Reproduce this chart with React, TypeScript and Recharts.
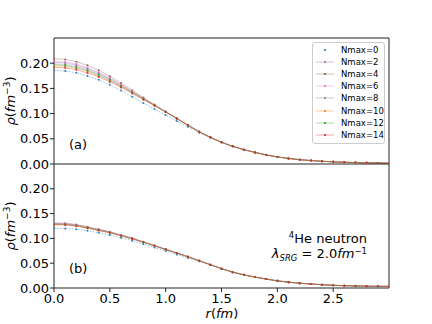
import React from 'react';
import { LineChart, Line, XAxis, YAxis, ReferenceLine, Customized } from 'recharts';

const rValues = [0, 0.1, 0.2, 0.3, 0.4, 0.5, 0.6, 0.7, 0.8, 0.9, 1.0, 1.1, 1.2, 1.3, 1.4, 1.5, 1.6, 1.7, 1.8, 1.9, 2.0, 2.1, 2.2, 2.3, 2.4, 2.5, 2.6, 2.7, 2.8, 2.9, 3.0];

const xTicks = [0, 0.5, 1.0, 1.5, 2.0, 2.5];
const yTicks = [0, 0.05, 0.1, 0.15, 0.2];
const seriesLabels = ['Nmax=0', 'Nmax=2', 'Nmax=4', 'Nmax=6', 'Nmax=8', 'Nmax=10', 'Nmax=12', 'Nmax=14'];

// panel (a)
const topN0 = [0.186, 0.1845, 0.181, 0.1747, 0.167, 0.1571, 0.1457, 0.1335, 0.121, 0.109, 0.097, 0.0855, 0.074, 0.062, 0.052, 0.043, 0.035, 0.0285, 0.023, 0.0182, 0.0143, 0.0113, 0.0088, 0.007, 0.0056, 0.0045, 0.0036, 0.003, 0.0025, 0.0021, 0.0018];
const topN2 = [0.202, 0.2006, 0.1963, 0.1895, 0.1805, 0.1695, 0.1571, 0.1438, 0.1302, 0.117, 0.1036, 0.0904, 0.077, 0.064, 0.053, 0.043, 0.035, 0.0285, 0.023, 0.018, 0.014, 0.011, 0.0085, 0.0068, 0.0054, 0.0043, 0.0034, 0.0028, 0.0023, 0.0019, 0.0016];
const topN4 = [0.209, 0.2075, 0.203, 0.1957, 0.186, 0.1741, 0.1607, 0.1465, 0.132, 0.118, 0.104, 0.0905, 0.077, 0.064, 0.053, 0.043, 0.035, 0.0285, 0.023, 0.018, 0.014, 0.011, 0.0085, 0.0068, 0.0054, 0.0043, 0.0034, 0.0028, 0.0023, 0.0019, 0.0016];
const topN6 = [0.204, 0.2025, 0.1982, 0.1913, 0.1821, 0.1708, 0.1581, 0.1446, 0.1307, 0.1173, 0.1037, 0.0904, 0.077, 0.064, 0.053, 0.043, 0.035, 0.0285, 0.023, 0.018, 0.014, 0.011, 0.0085, 0.0068, 0.0054, 0.0043, 0.0034, 0.0028, 0.0023, 0.0019, 0.0016];
const topN8 = [0.199, 0.1976, 0.1935, 0.1869, 0.1782, 0.1675, 0.1555, 0.1427, 0.1295, 0.1166, 0.1034, 0.0903, 0.077, 0.064, 0.053, 0.043, 0.035, 0.0285, 0.023, 0.018, 0.014, 0.011, 0.0085, 0.0068, 0.0054, 0.0043, 0.0034, 0.0028, 0.0023, 0.0019, 0.0016];
const topN10 = [0.195, 0.1936, 0.1897, 0.1834, 0.1751, 0.1649, 0.1534, 0.1412, 0.1285, 0.116, 0.1032, 0.0902, 0.077, 0.064, 0.053, 0.043, 0.035, 0.0285, 0.023, 0.018, 0.014, 0.011, 0.0085, 0.0068, 0.0054, 0.0043, 0.0034, 0.0028, 0.0023, 0.0019, 0.0016];
const topN12 = [0.197, 0.1956, 0.1916, 0.1851, 0.1766, 0.1662, 0.1545, 0.1419, 0.129, 0.1163, 0.1033, 0.0903, 0.077, 0.064, 0.053, 0.043, 0.035, 0.0285, 0.023, 0.018, 0.014, 0.011, 0.0085, 0.0068, 0.0054, 0.0043, 0.0034, 0.0028, 0.0023, 0.0019, 0.0016];
const topN14 = [0.192, 0.1907, 0.1868, 0.1807, 0.1727, 0.1629, 0.1519, 0.14, 0.1277, 0.1156, 0.103, 0.0902, 0.077, 0.064, 0.053, 0.043, 0.035, 0.0285, 0.023, 0.018, 0.014, 0.011, 0.0085, 0.0068, 0.0054, 0.0043, 0.0034, 0.0028, 0.0023, 0.0019, 0.0016];

// panel (b)
const botN0 = [0.1205, 0.12, 0.1185, 0.1155, 0.1115, 0.107, 0.1015, 0.0955, 0.0885, 0.0815, 0.0745, 0.0675, 0.0605, 0.054, 0.0465, 0.039, 0.032, 0.0265, 0.022, 0.018, 0.0145, 0.0118, 0.0097, 0.008, 0.0066, 0.0055, 0.0047, 0.0041, 0.0037, 0.0034, 0.0032];
const botN2 = [0.13, 0.1295, 0.1271, 0.1226, 0.1177, 0.1128, 0.1065, 0.1001, 0.0928, 0.0854, 0.078, 0.0705, 0.063, 0.055, 0.047, 0.039, 0.032, 0.0265, 0.022, 0.018, 0.0145, 0.0118, 0.0097, 0.008, 0.0066, 0.0055, 0.0047, 0.0041, 0.0037, 0.0034, 0.0032];
const botN4 = [0.131, 0.1305, 0.128, 0.1235, 0.1185, 0.1135, 0.107, 0.1005, 0.093, 0.0855, 0.078, 0.0705, 0.063, 0.055, 0.047, 0.039, 0.032, 0.0265, 0.022, 0.018, 0.0145, 0.0118, 0.0097, 0.008, 0.0066, 0.0055, 0.0047, 0.0041, 0.0037, 0.0034, 0.0032];
const botN6 = [0.1305, 0.13, 0.1275, 0.1231, 0.1181, 0.1132, 0.1067, 0.1003, 0.0929, 0.0854, 0.078, 0.0705, 0.063, 0.055, 0.047, 0.039, 0.032, 0.0265, 0.022, 0.018, 0.0145, 0.0118, 0.0097, 0.008, 0.0066, 0.0055, 0.0047, 0.0041, 0.0037, 0.0034, 0.0032];
const botN8 = [0.129, 0.1285, 0.1261, 0.1217, 0.1169, 0.1122, 0.106, 0.0997, 0.0925, 0.0852, 0.0779, 0.0705, 0.063, 0.055, 0.047, 0.039, 0.032, 0.0265, 0.022, 0.018, 0.0145, 0.0118, 0.0097, 0.008, 0.0066, 0.0055, 0.0047, 0.0041, 0.0037, 0.0034, 0.0032];
const botN10 = [0.128, 0.1275, 0.1252, 0.1209, 0.1162, 0.1115, 0.1054, 0.0994, 0.0922, 0.0851, 0.0778, 0.0704, 0.063, 0.055, 0.047, 0.039, 0.032, 0.0265, 0.022, 0.018, 0.0145, 0.0118, 0.0097, 0.008, 0.0066, 0.0055, 0.0047, 0.0041, 0.0037, 0.0034, 0.0032];
const botN12 = [0.1285, 0.128, 0.1256, 0.1213, 0.1166, 0.1119, 0.1057, 0.0995, 0.0924, 0.0852, 0.0779, 0.0705, 0.063, 0.055, 0.047, 0.039, 0.032, 0.0265, 0.022, 0.018, 0.0145, 0.0118, 0.0097, 0.008, 0.0066, 0.0055, 0.0047, 0.0041, 0.0037, 0.0034, 0.0032];
const botN14 = [0.1275, 0.127, 0.1247, 0.1204, 0.1158, 0.1112, 0.1052, 0.0992, 0.0921, 0.085, 0.0778, 0.0704, 0.063, 0.055, 0.047, 0.039, 0.032, 0.0265, 0.022, 0.018, 0.0145, 0.0118, 0.0097, 0.008, 0.0066, 0.0055, 0.0047, 0.0041, 0.0037, 0.0034, 0.0032];

const topSeries = [topN0, topN2, topN4, topN6, topN8, topN10, topN12, topN14];
const botSeries = [botN0, botN2, botN4, botN6, botN8, botN10, botN12, botN14];

const COLORS = ['#1f77b4', '#9467bd', '#8c564b', '#e377c2', '#7f7f7f', '#ff7f0e', '#2ca02c', '#d62728'];
const FONT = 'DejaVu Sans, sans-serif';
const SPINE = '#222';

function buildRows(series: number[][]) {
  return rValues.map((r, i) => {
    const row: Record<string, number> = { r };
    series.forEach((s, k) => {
      row['s' + k] = s[i];
    });
    return row;
  });
}

const topRows = buildRows(topSeries);
const botRows = buildRows(botSeries);

function renderLines() {
  return seriesLabels.map((label, k) => (
    <Line
      key={label}
      type="linear"
      dataKey={'s' + k}
      name={label}
      stroke={COLORS[k]}
      strokeOpacity={k === 0 ? 0.5 : 0.35}
      strokeWidth={1}
      strokeDasharray={k === 0 ? '1.5 1.5' : undefined}
      dot={{ r: 1, fill: COLORS[k], fillOpacity: 0.9, stroke: 'none' }}
      activeDot={false}
      isAnimationActive={false}
    />
  ));
}

const tickStyle = { fontSize: 13, fill: '#000', fontFamily: FONT };

function YLabel({ cy }: { cy: number }) {
  return (
    <text
      x={15}
      y={cy}
      transform={`rotate(-90, 15, ${cy})`}
      textAnchor="middle"
      fontFamily={FONT}
      fontSize={13}
      fill="#000"
    >
      <tspan fontStyle="italic">ρ</tspan>
      <tspan>(</tspan>
      <tspan fontStyle="italic">fm</tspan>
      <tspan fontSize={9} dy={-5}>−3</tspan>
      <tspan dy={5}>)</tspan>
    </text>
  );
}

function TopDecor() {
  return (
    <g>
      <YLabel cy={101} />
      <text x={69} y={149} fontFamily={FONT} fontSize={13} fill="#000">(a)</text>
    </g>
  );
}

function BottomDecor() {
  return (
    <g>
      <YLabel cy={72} />
      <text x={69} y={119} fontFamily={FONT} fontSize={13} fill="#000">(b)</text>
      <text x={367} y={89} textAnchor="end" fontFamily={FONT} fontSize={13} fill="#000">
        <tspan fontSize={8.5} dy={-5}>4</tspan>
        <tspan dy={5}>He neutron</tspan>
      </text>
      <text x={367} y={104} textAnchor="end" fontFamily={FONT} fontSize={13} fill="#000">
        <tspan fontStyle="italic">λ</tspan>
        <tspan fontStyle="italic" fontSize={8.5} dy={2.5}>SRG</tspan>
        <tspan dy={-2.5}> = 2.0</tspan>
        <tspan fontStyle="italic">fm</tspan>
        <tspan fontSize={8.5} dy={-4.5}>−1</tspan>
      </text>
      <text x={222} y={164} textAnchor="middle" fontFamily={FONT} fontSize={13} fill="#000">
        <tspan fontStyle="italic">r</tspan>
        <tspan>(</tspan>
        <tspan fontStyle="italic">fm</tspan>
        <tspan>)</tspan>
      </text>
    </g>
  );
}

function LegendBox() {
  return (
    <div
      style={{
        position: 'absolute',
        left: 312,
        top: 42,
        width: 73,
        height: 102,
        boxSizing: 'border-box',
        border: '1px solid #cccccc',
        borderRadius: 3,
        background: 'rgba(255,255,255,0.8)',
        paddingTop: 1,
        fontFamily: FONT,
        fontSize: 8.5,
        color: '#000',
      }}
    >
      {seriesLabels.map((label, k) => (
        <div key={label} style={{ height: 12.1, display: 'flex', alignItems: 'center' }}>
          <svg width={20} height={8} style={{ marginLeft: 2, marginRight: 6, flex: 'none' }}>
            {k !== 0 && <line x1={1} y1={4} x2={19} y2={4} stroke={COLORS[k]} strokeOpacity={0.4} strokeWidth={1} />}
            <circle cx={10} cy={4} r={1.1} fill={COLORS[k]} />
          </svg>
          <span style={{ whiteSpace: 'nowrap', lineHeight: '12px' }}>{label}</span>
        </div>
      ))}
    </div>
  );
}

export default function App() {
  return (
    <div style={{ position: 'absolute', left: 0, top: 0, width: 432, height: 324, background: '#fff', overflow: 'hidden' }}>
      <div style={{ position: 'absolute', left: 0, top: 154 }}>
        <LineChart width={432} height={170} data={botRows} margin={{ top: 10, right: 43, bottom: 0, left: 0 }}>
          <XAxis
            dataKey="r"
            type="number"
            domain={[0, 3]}
            ticks={xTicks}
            interval={0}
            allowDataOverflow
            height={36}
            tickFormatter={(v: number) => v.toFixed(1)}
            tick={tickStyle}
            tickSize={4}
            tickMargin={2}
            tickLine={{ stroke: SPINE }}
            axisLine={{ stroke: SPINE }}
          />
          <YAxis
            type="number"
            domain={[0, 0.25]}
            ticks={yTicks}
            interval={0}
            allowDataOverflow
            width={54}
            tickFormatter={(v: number) => v.toFixed(2)}
            tick={tickStyle}
            tickSize={4}
            tickMargin={1}
            tickLine={{ stroke: SPINE }}
            axisLine={{ stroke: SPINE }}
          />
          {renderLines()}
          <ReferenceLine x={3} stroke={SPINE} strokeWidth={1} />
          <Customized component={BottomDecor} />
        </LineChart>
      </div>
      <div style={{ position: 'absolute', left: 0, top: 0, pointerEvents: 'none' }}>
        <LineChart width={432} height={182} data={topRows} margin={{ top: 38, right: 43, bottom: 18, left: 0 }}>
          <XAxis dataKey="r" type="number" domain={[0, 3]} hide allowDataOverflow />
          <YAxis
            type="number"
            domain={[0, 0.25]}
            ticks={yTicks}
            interval={0}
            allowDataOverflow
            width={54}
            tickFormatter={(v: number) => v.toFixed(2)}
            tick={tickStyle}
            tickSize={4}
            tickMargin={1}
            tickLine={{ stroke: SPINE }}
            axisLine={{ stroke: SPINE }}
          />
          {renderLines()}
          <ReferenceLine y={0.25} stroke={SPINE} strokeWidth={1} />
          <ReferenceLine y={0} stroke={SPINE} strokeWidth={1} />
          <ReferenceLine x={3} stroke={SPINE} strokeWidth={1} />
          <Customized component={TopDecor} />
        </LineChart>
      </div>
      <LegendBox />
    </div>
  );
}
